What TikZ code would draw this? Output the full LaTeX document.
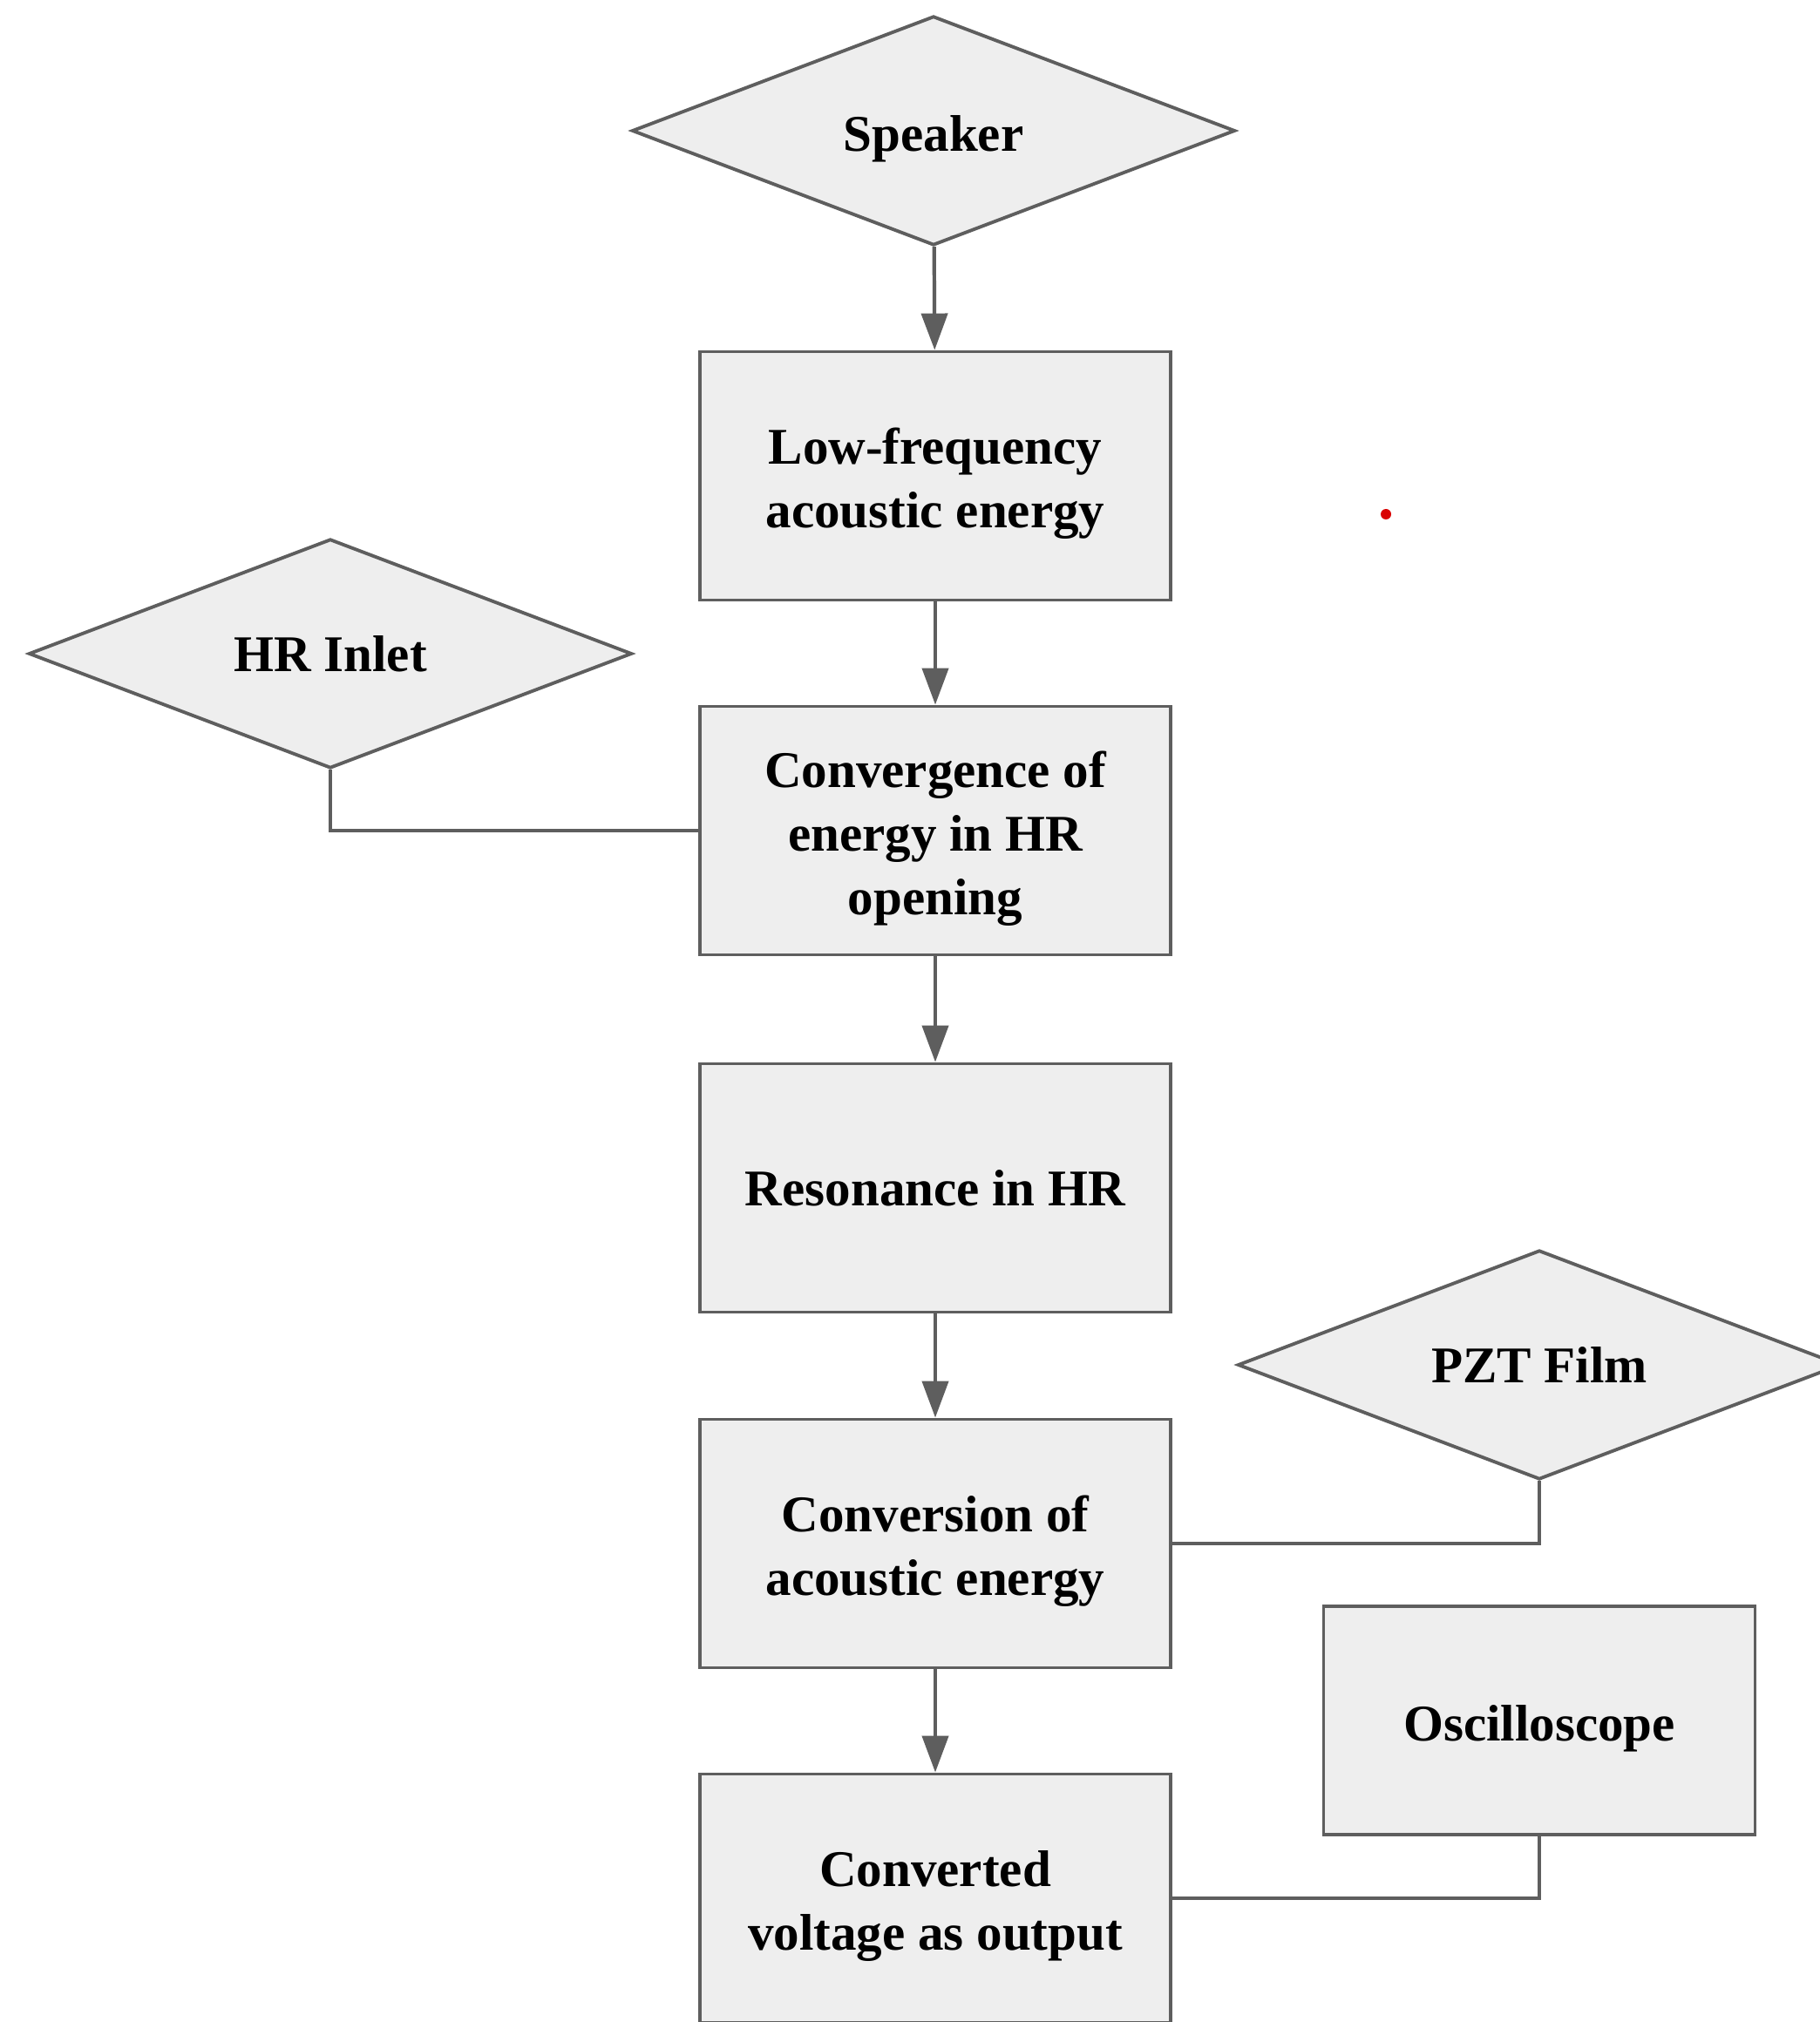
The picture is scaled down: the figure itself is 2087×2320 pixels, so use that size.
\documentclass[tikz,border=0pt]{standalone}
\usepackage{fontspec}
\setmainfont{Liberation Serif}
\usetikzlibrary{shapes.geometric,arrows.meta}
\definecolor{boxgray}{HTML}{EEEEEE}
\definecolor{linegray}{HTML}{5E5E5E}
\newcommand{\labelfont}{\bfseries\fontsize{16.8}{20.8}\selectfont}
\newcommand{\topstrut}{\rule{0pt}{17pt}}
\begin{document}
\begin{tikzpicture}[x=0.1mm, y=-0.1mm,
    stepbox/.style={draw=linegray, line width=1.1pt, fill=boxgray, align=center, font=\labelfont, minimum width=54mm, minimum height=28.5mm},
    decision/.style={diamond, aspect=2.63, draw=linegray, line width=1.1pt, fill=boxgray, inner sep=0pt, font=\labelfont, minimum width=69.2mm, minimum height=26.3mm},
    flow/.style={draw=linegray, line width=1.2pt, -{Triangle[length=4.2mm, width=3mm]}},
    link/.style={draw=linegray, line width=1.2pt}]
    \useasboundingbox (0,0) rectangle (2087,2320);
    % main column
    \node[decision] (speaker) at (1071,150) {\topstrut Speaker};
    \node[stepbox] (lowfreq) at (1073,546) {\topstrut Low-frequency\\acoustic energy};
    \node[stepbox] (converge) at (1073,953) {\topstrut Convergence of\\energy in HR\\opening};
    \node[stepbox] (reson) at (1073,1363) {Resonance in HR};
    \node[stepbox] (convers) at (1073,1771) {\topstrut Conversion of\\acoustic energy};
    \node[stepbox] (output) at (1073,2178) {\topstrut Converted\\voltage as output};
    % side inputs
    \node[decision] (inlet) at (379,750) {HR Inlet};
    \node[decision] (pzt) at (1766,1566) {PZT Film};
    \node[stepbox, minimum width=49.5mm, minimum height=26.2mm] (scope) at (1766,1974) {\topstrut Oscilloscope};
    \fill[red!85!black] (1590,590) circle (6);
    % connectors
    \draw[flow] (speaker) -- (lowfreq);
    \draw[flow] (lowfreq) -- (converge);
    \draw[flow] (converge) -- (reson);
    \draw[flow] (reson) -- (convers);
    \draw[flow] (convers) -- (output);
    \draw[link] (inlet.south) |- (converge.west);
    \draw[link] (pzt.south) |- (convers.east);
    \draw[link] (scope.south) |- (output.east);
\end{tikzpicture}
\end{document}
